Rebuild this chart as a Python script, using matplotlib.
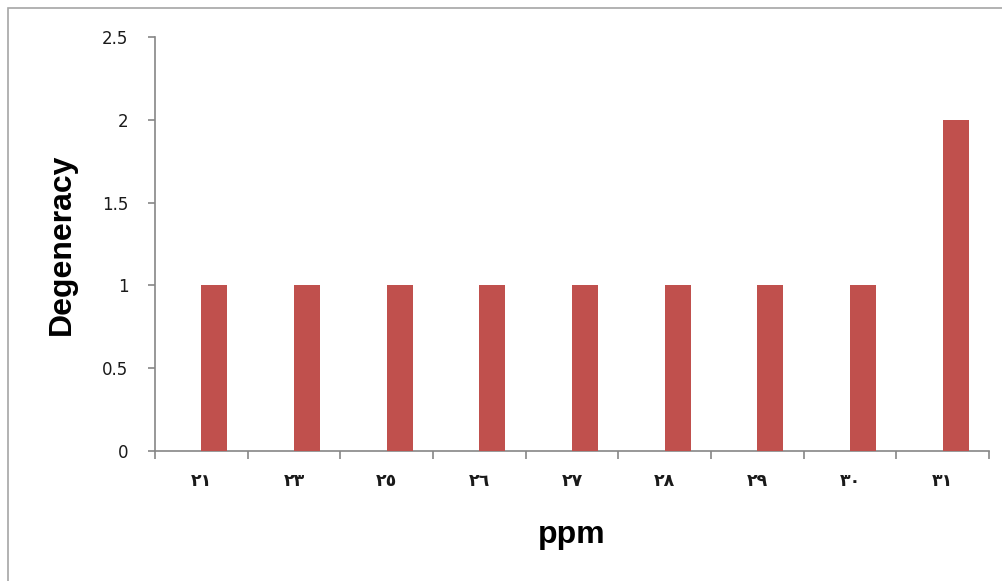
import matplotlib
matplotlib.use("Agg")
import matplotlib.pyplot as plt
from matplotlib.patches import Rectangle
from matplotlib.ticker import FixedLocator, NullFormatter

categories = ["٢١", "٢٣", "٢٥", "٢٦", "٢٧", "٢٨", "٢٩", "٣٠", "٣١"]
values = [1, 1, 1, 1, 1, 1, 1, 1, 2]
y_ticks = [0, 0.5, 1, 1.5, 2, 2.5]
y_tick_labels = ["0", "0.5", "1", "1.5", "2", "2.5"]

W, H = 1002, 581
fig = plt.figure(figsize=(W / 100, H / 100), dpi=100)
fig.patch.set_facecolor("white")

# outer chart border (only top/left visible)
fig.patches.append(Rectangle((8 / W, -0.1), 1.2, 1 - 8 / H + 0.1, transform=fig.transFigure,
                             fill=False, edgecolor="#a6a6a6", linewidth=1.2))

ax = fig.add_axes([155 / W, 1 - 451 / H, (989 - 155) / W, (451 - 37) / H])
x = list(range(len(categories)))
ax.bar(x, values, width=0.28, align="edge", color="#C0504D", zorder=3)

ax.set_xlim(-0.5, len(categories) - 0.5)
ax.set_ylim(0, 2.5)

axis_color = "#868686"
for s in ["top", "right"]:
    ax.spines[s].set_visible(False)
for s in ["left", "bottom"]:
    ax.spines[s].set_color(axis_color)
    ax.spines[s].set_linewidth(1.2)

ax.set_yticks(y_ticks)
ax.set_yticklabels(y_tick_labels, family="DejaVu Sans", fontsize=12, color="#1a1a1a")
ax.tick_params(axis="y", length=5, width=1.2, color=axis_color, pad=14)

ax.set_xticks(x)
ax.set_xticklabels(categories, family=["DejaVu Sans"], fontsize=12.5, fontweight="bold",
                   color="#1a1a1a")
ax.tick_params(axis="x", which="major", length=0, pad=15)
ax.xaxis.set_minor_locator(FixedLocator([i - 0.5 for i in range(len(categories) + 1)]))
ax.xaxis.set_minor_formatter(NullFormatter())
ax.tick_params(axis="x", which="minor", length=6, width=1.2, color=axis_color)

ax.set_xlabel("ppm", family="Liberation Sans", fontweight="bold", fontsize=23, labelpad=22)
ax.set_ylabel("Degeneracy", family="Liberation Sans", fontweight="bold", fontsize=23, labelpad=18)

fig.savefig("out.png", dpi=100)
